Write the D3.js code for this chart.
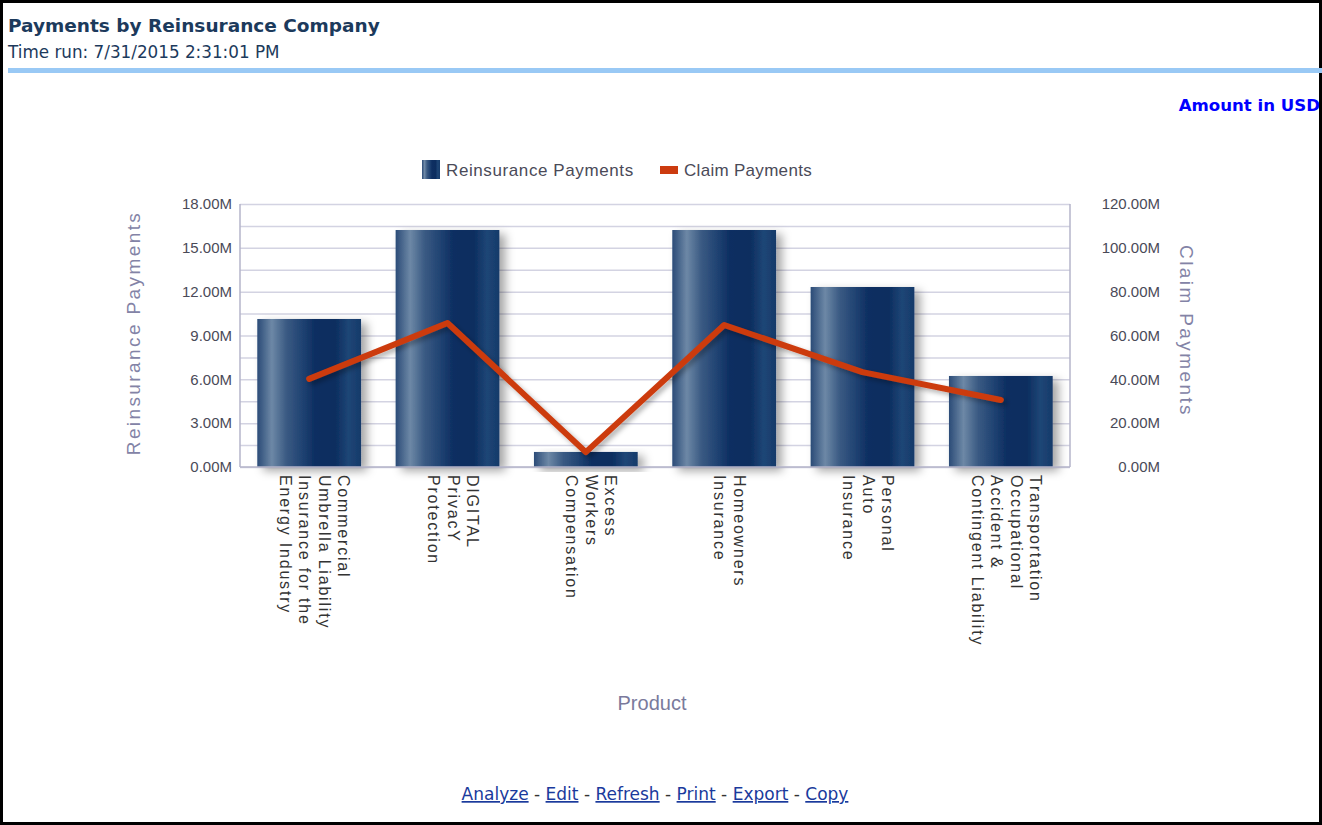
<!DOCTYPE html>
<html>
<head>
<meta charset="utf-8">
<script src="https://cdn.jsdelivr.net/npm/d3@7"></script>
<style>
  body { margin: 0; background: #fff; }
  svg { display: block; }
</style>
</head>
<body>
<div id="chart"></div>
<script>
const products = [
  ['Commercial', 'Umbrella Liability', 'Insurance for the', 'Energy Industry'],
  ['DIGITAL', 'PrivacY', 'Protection'],
  ['Excess', 'Workers', 'Compensation'],
  ['Homeowners', 'Insurance'],
  ['Personal', 'Auto', 'Insurance'],
  ['Transportation', 'Occupational', 'Accident &', 'Contingent Liability']
];
const reinsurancePayments = [10.13e6, 16.22e6, 1.03e6, 16.22e6, 12.32e6, 6.23e6];
const claimPayments = [40.2e6, 65.7e6, 6.8e6, 64.8e6, 43.3e6, 30.6e6];
const leftTicks = [0, 3e6, 6e6, 9e6, 12e6, 15e6, 18e6];
const rightTicks = [0, 20e6, 40e6, 60e6, 80e6, 100e6, 120e6];
const links = ['Analyze', 'Edit', 'Refresh', 'Print', 'Export', 'Copy'];

const W = 1322, H = 825;
const plot = { left: 240, right: 1070, top: 204, bottom: 467 };
const fmt = d => (d / 1e6).toFixed(2) + 'M';
const keys = products.map((p, i) => i);
const headFont = '"DejaVu Sans", Verdana, sans-serif';
const chartFont = '"Liberation Sans", Arial, sans-serif';

const svg = d3.select('#chart').append('svg')
  .attr('width', W).attr('height', H);

const defs = svg.append('defs');
const grad = defs.append('linearGradient').attr('id', 'barGrad')
  .attr('x1', '0%').attr('x2', '100%').attr('y1', '0%').attr('y2', '0%');
[['0%', '#2b4b77'], ['14%', '#6d88a6'], ['28%', '#3a5a83'], ['45%', '#1d4070'],
 ['55%', '#0e2f62'], ['75%', '#0c2d5f'], ['88%', '#1e4676'], ['100%', '#163a6a']]
  .forEach(s => grad.append('stop').attr('offset', s[0]).attr('stop-color', s[1]));

const shadow = defs.append('filter').attr('id', 'shadow')
  .attr('x', '-20%').attr('y', '-20%').attr('width', '150%').attr('height', '150%');
shadow.append('feDropShadow').attr('dx', 6).attr('dy', 4)
  .attr('stdDeviation', 5).attr('flood-color', '#000').attr('flood-opacity', 0.35);

const lineShadow = defs.append('filter').attr('id', 'lineShadow')
  .attr('x', '-10%').attr('y', '-30%').attr('width', '130%').attr('height', '160%');
lineShadow.append('feDropShadow').attr('dx', 3).attr('dy', 3)
  .attr('stdDeviation', 2.5).attr('flood-color', '#000').attr('flood-opacity', 0.3);

// frame
svg.append('rect').attr('x', 1.5).attr('y', 1.5).attr('width', W - 3).attr('height', H - 3)
  .attr('fill', 'none').attr('stroke', '#000').attr('stroke-width', 3);

// header
svg.append('text').attr('x', 8).attr('y', 32)
  .text('Payments by Reinsurance Company')
  .style('font-family', headFont)
  .style('font-weight', 'bold').style('font-size', '18.5px').style('fill', '#1c3a5c');
svg.append('text').attr('x', 8).attr('y', 58)
  .text('Time run: 7/31/2015 2:31:01 PM')
  .style('font-family', headFont)
  .style('font-size', '16.8px').style('fill', '#1c3a5c');
svg.append('rect').attr('x', 8).attr('y', 68).attr('width', W - 8).attr('height', 5)
  .attr('fill', '#99c9f5');

svg.append('text').attr('x', 1320).attr('y', 111).attr('text-anchor', 'end')
  .text('Amount in USD')
  .style('font-family', headFont)
  .style('font-weight', 'bold').style('font-size', '16.6px').style('fill', '#0000ff');

// scales
const x = d3.scaleBand().domain(keys).range([plot.left, plot.right])
  .paddingInner(0.25).paddingOuter(0.125);
const yL = d3.scaleLinear().domain([0, 18e6]).range([plot.bottom, plot.top]);
const yR = d3.scaleLinear().domain([0, 120e6]).range([plot.bottom, plot.top]);

// grid
const gridVals = d3.range(0, 18e6 + 1, 1.5e6);
svg.append('g').attr('class', 'grid')
  .attr('transform', `translate(${plot.left},0)`)
  .call(d3.axisLeft(yL).tickValues(gridVals).tickSize(-(plot.right - plot.left)).tickFormat(''))
  .call(g => g.select('.domain').remove())
  .selectAll('line').attr('stroke', '#d3d3e2').attr('stroke-width', 1.5);

svg.append('line').attr('x1', plot.left).attr('x2', plot.left)
  .attr('y1', plot.top).attr('y2', plot.bottom).attr('stroke', '#b4b4ca').attr('stroke-width', 1.5);
svg.append('line').attr('x1', plot.right).attr('x2', plot.right)
  .attr('y1', plot.top).attr('y2', plot.bottom).attr('stroke', '#b4b4ca').attr('stroke-width', 1.5);

// axes
const tickFont = g => g.selectAll('text')
  .style('font-family', chartFont)
  .style('font-size', '15px').style('fill', '#4a4a58');

svg.append('g').attr('transform', `translate(${plot.left},0)`)
  .call(d3.axisLeft(yL).tickValues(leftTicks).tickFormat(fmt).tickSize(0).tickPadding(8))
  .call(g => g.select('.domain').remove())
  .call(tickFont);

svg.append('g').attr('transform', `translate(${plot.right},0)`)
  .call(d3.axisRight(yR).tickValues(rightTicks).tickFormat(fmt).tickSize(0))
  .call(g => g.select('.domain').remove())
  .call(g => g.selectAll('text').attr('x', 90).attr('text-anchor', 'end'))
  .call(tickFont);

// bars
svg.append('g').selectAll('rect')
  .data(reinsurancePayments)
  .join('rect')
  .attr('x', (d, i) => x(i))
  .attr('width', x.bandwidth())
  .attr('y', d => yL(d))
  .attr('height', d => plot.bottom - yL(d))
  .attr('fill', 'url(#barGrad)')
  .attr('filter', 'url(#shadow)');

// bottom axis line
svg.append('line').attr('x1', plot.left).attr('x2', plot.right)
  .attr('y1', plot.bottom).attr('y2', plot.bottom).attr('stroke', '#b4b4ca').attr('stroke-width', 1.5);

// claim line
const line = d3.line()
  .x((d, i) => x(i) + x.bandwidth() / 2)
  .y(d => yR(d));
svg.append('path')
  .attr('d', line(claimPayments))
  .attr('fill', 'none')
  .attr('stroke', '#cc3b0f')
  .attr('stroke-width', 6)
  .attr('stroke-linejoin', 'round')
  .attr('stroke-linecap', 'round')
  .attr('filter', 'url(#lineShadow)');

// category labels
const lineH = 19.5;
const labels = svg.append('g').selectAll('g')
  .data(products)
  .join('g')
  .attr('transform', (d, i) => {
    const cx = x(i) + x.bandwidth() / 2 + 5;
    return `translate(${cx},475) rotate(90)`;
  });
labels.each(function (lines) {
  const t = d3.select(this).append('text')
    .style('font-family', chartFont)
    .style('font-size', '16px').style('fill', '#333')
    .style('letter-spacing', '1.8px');
  const n = lines.length;
  lines.forEach((s, j) => {
    t.append('tspan').attr('x', 0)
      .attr('y', (j - (n - 1) / 2) * lineH + 5)
      .text(s);
  });
});

// axis titles
const axisTitle = sel => sel
  .style('font-family', chartFont)
  .style('font-size', '19px').style('fill', '#8383a6').style('letter-spacing', '2.4px');

svg.append('text')
  .attr('transform', `translate(140,333) rotate(-90)`)
  .attr('text-anchor', 'middle')
  .text('Reinsurance Payments').call(axisTitle);

svg.append('text')
  .attr('transform', `translate(1180,331) rotate(90)`)
  .attr('text-anchor', 'middle')
  .text('Claim Payments').call(axisTitle);

svg.append('text').attr('x', 652).attr('y', 710).attr('text-anchor', 'middle')
  .text('Product')
  .style('font-family', chartFont)
  .style('font-size', '20px').style('fill', '#7a7a9c');

// legend
const legend = svg.append('g').attr('transform', 'translate(422,160)');
legend.append('rect').attr('x', 0).attr('y', 0).attr('width', 18).attr('height', 19)
  .attr('fill', 'url(#barGrad)');
legend.append('text').attr('x', 24).attr('y', 16).text('Reinsurance Payments')
  .style('font-family', chartFont)
  .style('font-size', '17px').style('fill', '#4a4a58').style('letter-spacing', '0.6px');
legend.append('rect').attr('x', 238).attr('y', 6).attr('width', 18).attr('height', 8)
  .attr('fill', '#cc3b0f');
legend.append('text').attr('x', 262).attr('y', 16).text('Claim Payments')
  .style('font-family', chartFont)
  .style('font-size', '17px').style('fill', '#4a4a58').style('letter-spacing', '0.3px');

// links
const linkText = svg.append('text').attr('x', 655).attr('y', 800).attr('text-anchor', 'middle')
  .style('font-family', headFont)
  .style('font-size', '17px');
links.forEach((l, i) => {
  if (i > 0) linkText.append('tspan').text('  - ').style('fill', '#333');
  linkText.append('tspan').text(l).style('fill', '#1a3a9c').style('text-decoration', 'underline');
});
</script>
</body>
</html>
